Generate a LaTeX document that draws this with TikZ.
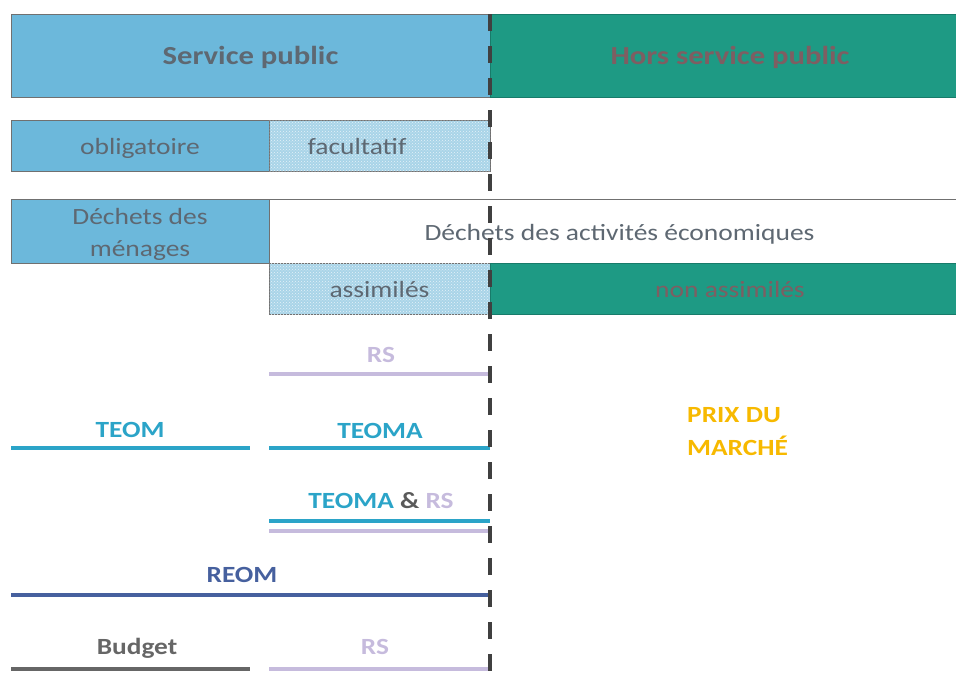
\documentclass[tikz,border=0pt]{standalone}
\usepackage{fontspec}
\setmainfont{Carlito}[FakeStretch=1.18]
\usetikzlibrary{patterns}
\definecolor{spblue}{HTML}{6CB8DB}
\definecolor{lightblue}{HTML}{A9D4E8}
\definecolor{hsgreen}{HTML}{1E9A84}
\definecolor{txtgray}{HTML}{5E6872}
\definecolor{greentxt}{HTML}{7E5E62}
\definecolor{teomc}{HTML}{2BA4C8}
\definecolor{rsc}{HTML}{C6BBDD}
\definecolor{reomc}{HTML}{46609E}
\definecolor{budgetc}{HTML}{666666}
\definecolor{ampc}{HTML}{5A5A5A}
\definecolor{prixc}{HTML}{F7B900}
\definecolor{dashc}{HTML}{404040}
\definecolor{edgec}{HTML}{707070}
\begin{document}
\begin{tikzpicture}[x=1pt,y=-1pt,
  box/.style={draw=edgec, line width=0.8pt, inner sep=0pt, outer sep=0pt,
    anchor=north west, align=center, text=txtgray,
    text height=21pt, text depth=3pt,
    font=\fontsize{23.3}{32}\selectfont},
  bluebox/.style={box, fill=spblue},
  paleblue/.style={box, fill=lightblue, postaction={pattern=crosshatch dots, pattern color=white!70!lightblue}},
  greenbox/.style={box, fill=hsgreen, draw=hsgreen!80!black, text=greentxt},
  whitebox/.style={box, fill=white},
  title/.style={font=\fontsize{26}{30}\selectfont\bfseries, text height=22pt, text depth=4pt},
  lbl/.style={anchor=base, inner sep=0pt, font=\fontsize{23.2}{27}\selectfont\bfseries},
  bar/.style={line width=4pt},
  sep/.style={draw=dashc, line width=4.5pt, dash pattern=on 17pt off 15pt}
]
\useasboundingbox (0,0) rectangle (956,688);

% row 1
\node[bluebox, title, minimum width=479pt, minimum height=83pt] (sp) at (11,14) {Service public};
\node[greenbox, title, minimum width=480pt, minimum height=83pt] (hsp) at (490,14) {Hors service public};

% row 2
\node[bluebox, minimum width=258pt, minimum height=51pt] (obl) at (11,120) {obligatoire};
\node[paleblue, minimum width=221pt, minimum height=51pt] (fac) at (269,120) {};
\node[anchor=base, text=txtgray, font=\fontsize{23.3}{27}\selectfont, inner sep=0pt] (factxt) at (357,154) {facultatif};

% row 3
\node[bluebox, minimum width=258pt, minimum height=64pt, text height=54pt, text depth=4pt] (dm) at (11,199) {Déchets des\\ménages};
\node[whitebox, minimum width=701pt, minimum height=64pt] (dae) at (269,199) {Déchets des activités économiques};

% row 4
\node[paleblue, minimum width=221pt, minimum height=51pt] (ass) at (269,263) {assimilés};
\node[greenbox, minimum width=480pt, minimum height=51pt] (nass) at (490,263) {non assimilés};

% RS
\node[lbl, text=rsc] (rs1) at (381,362) {RS};
\draw[bar, rsc] (269,374) coordinate (rs1a) -- (490,374) coordinate (rs1b);

% TEOM / TEOMA
\node[lbl, text=teomc] (teom) at (130,437) {TEOM};
\draw[bar, teomc] (11,448) coordinate (teoma) -- (250,448) coordinate (teomb);
\node[lbl, text=teomc] (teomalbl) at (380,438) {TEOMA};
\draw[bar, teomc] (269,448) coordinate (teomaa) -- (490,448) coordinate (teomab);

% TEOMA & RS
\node[lbl] (teomars) at (381,508) {\textcolor{teomc}{TEOMA} \textcolor{ampc}{\&} \textcolor{rsc}{RS}};
\draw[bar, teomc] (269,521) coordinate (trsa) -- (490,521) coordinate (trsb);
\draw[bar, rsc] (269,531) coordinate (trsc) -- (490,531) coordinate (trsd);

% REOM
\node[lbl, text=reomc] (reom) at (242,582) {REOM};
\draw[bar, reomc] (11,595) coordinate (reoma) -- (490,595) coordinate (reomb);

% Budget / RS
\node[lbl, text=budgetc] (budget) at (137,654) {Budget};
\draw[bar, budgetc] (11,669) coordinate (buda) -- (250,669) coordinate (budb);
\node[lbl, text=rsc] (rs2) at (375,654) {RS};
\draw[bar, rsc] (269,669) coordinate (rs2a) -- (490,669) coordinate (rs2b);

% Prix du marché
\node[anchor=base west, inner sep=0pt, text=prixc, font=\fontsize{23.2}{27}\selectfont\bfseries] (prix1) at (687,422) {PRIX DU};
\node[anchor=base west, inner sep=0pt, text=prixc, font=\fontsize{23.2}{27}\selectfont\bfseries] (prix2) at (687,455) {MARCHÉ};

% dashed separator
\coordinate (septop) at (490,14);
\coordinate (sepbot) at (490,681);
\draw[sep] (septop) -- (sepbot);
\end{tikzpicture}
\end{document}
